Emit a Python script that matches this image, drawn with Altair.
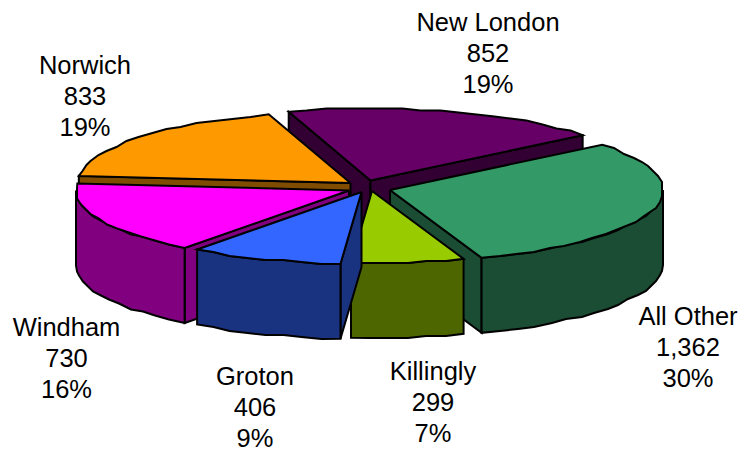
import math
import altair as alt
import pandas as pd

# Slices in clockwise drawing order, starting at the New London / All Other cut
names = ["All Other", "Killingly", "Groton", "Windham", "Norwich", "New London"]
values = [1362, 299, 406, 730, 833, 852]
percents = ["30%", "7%", "9%", "16%", "19%", "19%"]
top_colors = ["#339966", "#99CC00", "#3366FF", "#FF00FF", "#FF9900", "#660066"]
side_colors = ["#1A4D33", "#4D6600", "#1A3380", "#800080", "#804D00", "#330033"]

# Exploded apex of each slice, in canvas pixels
apex_x = [390, 372, 361.5, 349, 350.5, 370.5]
apex_y = [190, 191, 192, 190.5, 183, 180.5]

# Label block centres (x, first line y)
label_x = [688, 433, 255, 66.5, 85, 488]
label_y = [317, 372, 376.5, 328, 66, 23]
LINE_STEP = 31.0

RX, RY, DEPTH = 273.0, 72.0, 75.0
START_DEG = -39.0
GRID = 2.0
STEP_DEG = 4.0
W, H = 749, 449

x_scale = alt.Scale(domain=[0, W], range=[0, W])
y_scale = alt.Scale(domain=[0, H], range=[0, H])


def rim_offset(deg, snap=True):
    t = math.radians(deg)
    dx, dy = RX * math.cos(t), RY * math.sin(t)
    if snap:
        dx = round(dx / GRID) * GRID
        dy = round(dy / GRID) * GRID
    return dx, dy


def arc(a0, a1):
    """Rim offsets from a0 to a1; the ends stay exact, the rest sit on a coarse grid."""
    n = max(1, int(abs(a1 - a0) / STEP_DEG))
    pts = [rim_offset(a0, snap=False)]
    pts += [rim_offset(a0 + (a1 - a0) * i / n) for i in range(1, n)]
    pts.append(rim_offset(a1, snap=False))
    return pts


def polygon(points, fill):
    xy = list(points) + [points[0]]
    df = pd.DataFrame(xy, columns=["x", "y"])
    df["i"] = range(len(df))
    return (
        alt.Chart(df)
        .mark_line(fill=fill, stroke="black", strokeWidth=2, strokeJoin="miter", strokeMiterLimit=6)
        .encode(
            x=alt.X("x:Q", scale=x_scale, axis=None),
            y=alt.Y("y:Q", scale=y_scale, axis=None),
            order="i:Q",
        )
    )


def slice_layers(idx, a0, a1):
    ax, ay = apex_x[idx], apex_y[idx]
    top, side = top_colors[idx], side_colors[idx]
    layers = []

    def cut_face(a):
        dx, dy = rim_offset(a, snap=False)
        return polygon(
            [(ax, ay), (ax + dx, ay + dy), (ax + dx, ay + dy + DEPTH), (ax, ay + DEPTH)], side
        )

    if math.cos(math.radians(a0)) < 0:
        layers.append(cut_face(a0))
    if math.cos(math.radians(a1)) > 0:
        layers.append(cut_face(a1))

    # Outer wall exists only on the front half of the rim
    w0, w1 = max(a0, 0.0), min(a1, 180.0)
    if w1 > w0:
        rim = arc(w0, w1)
        upper = [(ax + dx, ay + dy) for dx, dy in rim]
        lower = [(ax + dx, ay + dy + DEPTH) for dx, dy in reversed(rim)]
        layers.append(polygon(upper + lower, side))

    face = [(ax, ay)] + [(ax + dx, ay + dy) for dx, dy in arc(a0, a1)]
    layers.append(polygon(face, top))
    return layers


total = sum(values)
angles = [START_DEG]
for v in values:
    angles.append(angles[-1] + 360.0 * v / total)

# Painter's order: back slices first, front slices last
paint_order = [5, 4, 0, 3, 1, 2]
layers = []
for idx in paint_order:
    layers += slice_layers(idx, angles[idx], angles[idx + 1])

label_rows = []
for i, name in enumerate(names):
    for line, txt in enumerate([name, f"{values[i]:,}", percents[i]]):
        label_rows.append({"x": label_x[i], "y": label_y[i] + line * LINE_STEP, "t": txt})

labels = (
    alt.Chart(pd.DataFrame(label_rows))
    .mark_text(font="Liberation Sans", fontSize=25.5, color="black", align="center", baseline="middle")
    .encode(
        x=alt.X("x:Q", scale=x_scale, axis=None),
        y=alt.Y("y:Q", scale=y_scale, axis=None),
        text="t:N",
    )
)

chart = (
    alt.layer(*layers, labels)
    .properties(width=W, height=H, padding=0, autosize=alt.AutoSizeParams(type="none"), background="white")
    .configure_view(stroke=None)
)

chart.save("out.html", embed_options={"renderer": "svg", "actions": False})
